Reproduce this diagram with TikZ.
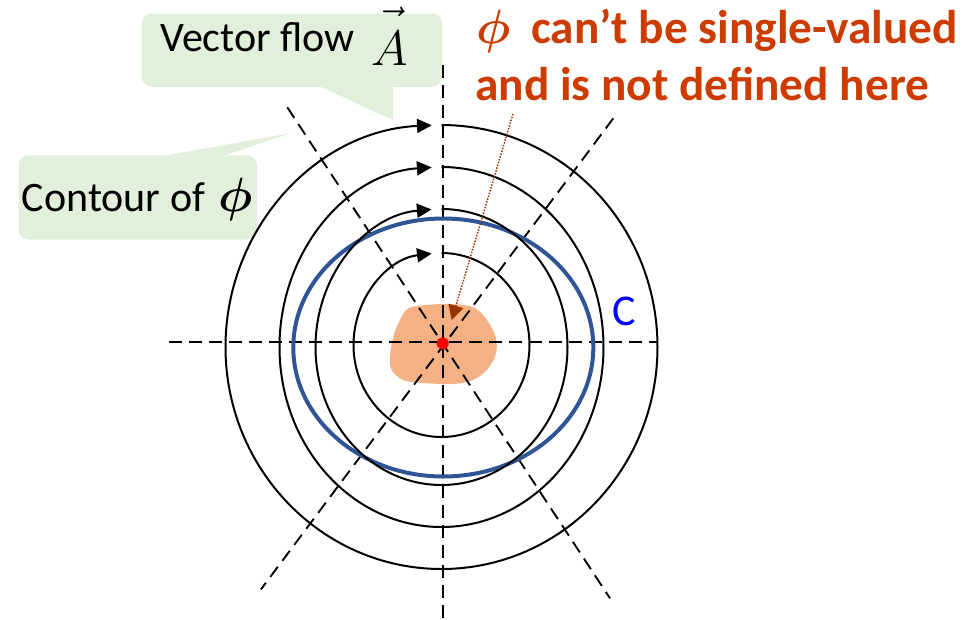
\documentclass[tikz,border=0pt]{standalone}
\usepackage{fontspec}
\setmainfont{Carlito}
\usetikzlibrary{arrows.meta}
\definecolor{callfill}{RGB}{226,239,218}
\definecolor{redtxt}{RGB}{204,60,0}
\definecolor{blueC}{RGB}{47,85,151}
\definecolor{blobc}{RGB}{244,177,131}
\definecolor{dotbrown}{RGB}{153,51,0}
\newcommand{\bigphi}{{\fontsize{24.88}{30}\selectfont\boldmath\scalebox{1.45}{$\phi$}}}
\newcommand{\vecA}{\raisebox{-10pt}{\fontsize{24.88}{30}\selectfont\scalebox{1.5}{$\vec{\mbox{\raisebox{0pt}[1.3\height][\depth]{$A$}\kern1.5pt}}$}}}
\begin{document}
\begin{tikzpicture}[x=0.75pt,y=0.75pt,
  dline/.style={line width=1.4pt, dash pattern=on 9.5pt off 5.5pt},
  ring/.style={line width=1.5pt, -{Triangle[length=11pt,width=10.5pt]}},
  callbox/.style={fill=callfill, rounded corners=7.5pt, inner sep=0pt, anchor=north west},
  bigtext/.style={font=\fontsize{31.5}{37}\selectfont, inner sep=0pt, anchor=base west},
  redtext/.style={font=\fontsize{35.5}{42}\selectfont\bfseries, text=redtxt, inner sep=0pt, anchor=base west},
  pointer/.style={dotbrown, line width=1.1pt, dash pattern=on 1.1pt off 1.1pt, -{Triangle[length=11pt,width=11.5pt]}}
]
\useasboundingbox (0,0) rectangle (972,-619);

% callouts
\node[callbox, minimum width=225pt, minimum height=55pt] (vfbox) at (141.7,-13.3) {};
\fill[callfill] (316.7,-85) -- (393.3,-120) -- (393.3,-85) -- cycle;
\node[callbox, minimum width=178.8pt, minimum height=63.2pt] (cbox) at (18.3,-155) {};
\fill[callfill] (156.7,-157) -- (290,-133.3) -- (220,-157) -- cycle;

% singular region
\fill[blobc] plot[smooth cycle, tension=0.55] coordinates {(408.3,-308.3) (426.7,-305) (450,-304) (471.7,-306.7) (483,-315) (493,-330) (496.7,-343) (495,-356.7) (486.7,-370) (473,-380) (453,-384) (423,-383) (403,-380) (391.7,-370) (390,-356.7) (393.3,-336.7) (400,-320)};

% dashed radial lines
\coordinate (o) at (442.7,-343.3);
\coordinate (hl) at (169,-342);   \coordinate (hr) at (657,-342);
\coordinate (vt) at (443,-65);    \coordinate (vb) at (443,-619);
\coordinate (d1a) at (287.3,-107.3); \coordinate (d1b) at (610,-598.3);
\coordinate (d2a) at (613.3,-118.3); \coordinate (d2b) at (261,-589.3);
\draw[dline] (hl) -- (hr);
\draw[dline] (vt) -- (vb);
\draw[dline] (d1a) -- (d1b);
\draw[dline] (d2a) -- (d2b);

% curve C
\draw[blueC, line width=3pt] (443.3,-347.5) ellipse[x radius=150, y radius=129];

% contours / flow lines
\draw[ring] (441.5,-125) arc[start angle=90, end angle=-267.4, x radius=216, y radius=222];
\draw[ring] (441.5,-167) arc[start angle=90, end angle=-266.5, x radius=162, y radius=180];
\draw[ring] (441.5,-209) arc[start angle=90, end angle=-265.5, x radius=126, y radius=138];
\draw[ring] (441.5,-253) arc[start angle=90, end angle=-263.6, x radius=88, y radius=92];

% singular point
\fill[red] (o) circle[radius=6];

% texts
\node[bigtext] (vftext) at (160,-51.7) {Vector flow\hspace{5pt} \vecA};
\node[bigtext] (ctext) at (21.7,-211.7) {Contour of\hspace{3pt} \bigphi};
\node[redtext] (red1) at (476.7,-43.3) {\bigphi\hspace{7pt} can’t be single-valued};
\node[redtext] (red2) at (475,-100) {and is not defined here};
\node[font=\fontsize{33}{40}\selectfont, text=blue, inner sep=0pt, anchor=base west] (clabel) at (612,-325) {C};

% pointer
\coordinate (ptrtail) at (513,-114);
\coordinate (ptrtip) at (451.7,-320);
\draw[pointer] (ptrtail) -- (ptrtip);
\end{tikzpicture}
\end{document}
